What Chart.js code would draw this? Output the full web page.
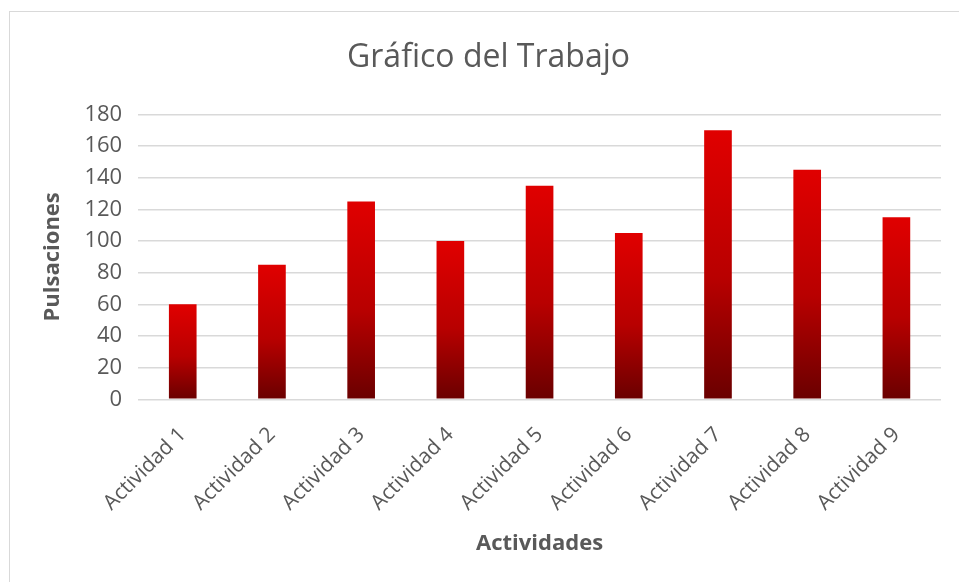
<!DOCTYPE html>
<html>
<head>
<meta charset="utf-8">
<script src="https://cdn.jsdelivr.net/npm/chart.js@4"></script>
<style>
  html, body { margin: 0; padding: 0; background: #fff; overflow: hidden; }
  #frame { position: absolute; left: 9px; top: 11px; width: 1000px; height: 700px; border: 1px solid #d9d9d9; }
  #wrap { position: absolute; left: 0; top: 0; width: 959px; height: 582px; }
</style>
</head>
<body>
<div id="frame"></div>
<div id="wrap"><canvas id="workChart" width="959" height="582"></canvas></div>
<script>
// Chart data
const categories = ['Actividad 1', 'Actividad 2', 'Actividad 3', 'Actividad 4', 'Actividad 5',
                    'Actividad 6', 'Actividad 7', 'Actividad 8', 'Actividad 9'];
const pulsaciones = [60, 85, 125, 100, 135, 105, 170, 145, 115];
const yTicks = [0, 20, 40, 60, 80, 100, 120, 140, 160, 180];

const fontFamily = "'Open Sans', sans-serif";
const textColor = '#595959';

// Each bar gets its own vertical gradient, bright red at the top, dark at the base
function barGradient(context) {
    const chart = context.chart;
    if (!chart.chartArea || context.dataIndex === undefined) return '#c00000';
    const yScale = chart.scales.y;
    const top = yScale.getPixelForValue(pulsaciones[context.dataIndex]);
    const base = yScale.getPixelForValue(0);
    const g = chart.ctx.createLinearGradient(0, top, 0, base);
    g.addColorStop(0, '#e00000');
    g.addColorStop(0.55, '#b80000');
    g.addColorStop(1, '#6a0000');
    return g;
}

function renderChart() {
    const ctx = document.getElementById('workChart').getContext('2d');
    new Chart(ctx, {
        type: 'bar',
        data: {
            labels: categories,
            datasets: [{
                label: 'Pulsaciones',
                data: pulsaciones,
                backgroundColor: barGradient,
                borderWidth: 0,
                categoryPercentage: 0.62,
                barPercentage: 0.5
            }]
        },
        options: {
            responsive: false,
            animation: false,
            layout: { padding: { left: 36, right: 18, top: 22, bottom: 21 } },
            plugins: {
                legend: { display: false },
                tooltip: { enabled: false },
                title: {
                    display: true,
                    text: 'Gráfico del Trabajo',
                    color: textColor,
                    font: { family: fontFamily, size: 32, weight: 'normal' },
                    padding: { top: 17, bottom: 37 }
                }
            },
            scales: {
                x: {
                    grid: { display: false, drawTicks: false },
                    border: { display: false },
                    ticks: {
                        color: textColor,
                        font: { family: fontFamily, size: 21 },
                        minRotation: 45,
                        maxRotation: 45,
                        padding: 23
                    },
                    title: {
                        display: true,
                        text: 'Actividades',
                        color: textColor,
                        font: { family: fontFamily, size: 22, weight: 'bold' },
                        padding: { top: -8 }
                    }
                },
                y: {
                    min: 0,
                    max: 180,
                    afterBuildTicks: axis => { axis.ticks = yTicks.map(v => ({ value: v })); },
                    grid: { color: '#d9d9d9', lineWidth: 1.5, drawTicks: false },
                    border: { display: false },
                    ticks: {
                        color: textColor,
                        font: { family: fontFamily, size: 22 },
                        padding: 16
                    },
                    title: {
                        display: true,
                        text: 'Pulsaciones',
                        color: textColor,
                        font: { family: fontFamily, size: 22, weight: 'bold' },
                        padding: { bottom: 2 }
                    }
                }
            }
        }
    });
}

document.addEventListener('DOMContentLoaded', renderChart);
</script>
</body>
</html>
